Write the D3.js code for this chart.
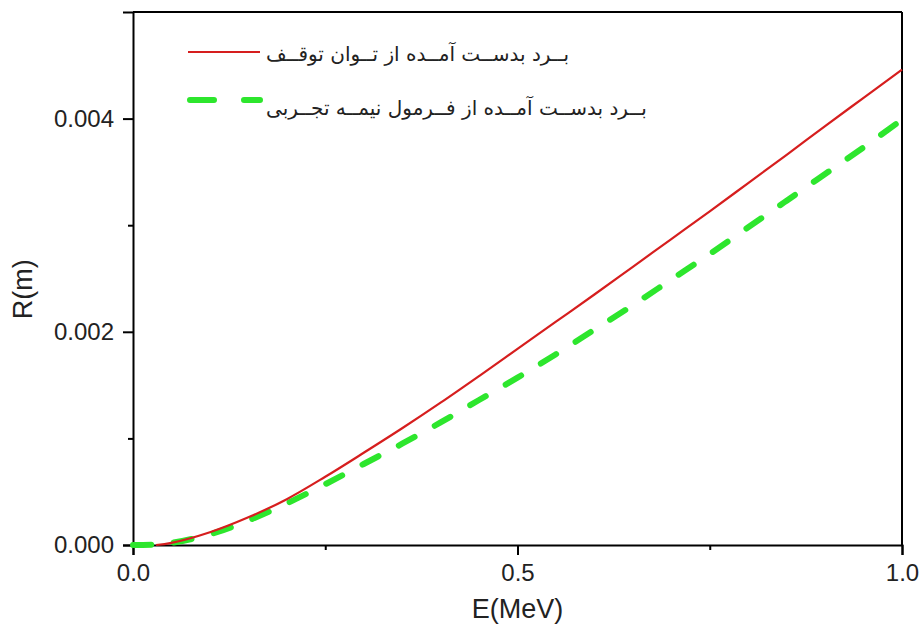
<!DOCTYPE html>
<html>
<head>
<meta charset="utf-8">
<script src="https://cdn.jsdelivr.net/npm/d3@7"></script>
<style>
  html, body { margin: 0; padding: 0; background: #fff; }
  svg { display: block; }
</style>
</head>
<body>
<svg id="chart" width="921" height="637"></svg>
<script>
// Energy (MeV) and range (m) from the stopping-power integration
const stoppingE = [0.03, 0.05, 0.1, 0.15, 0.2, 0.25, 0.3, 0.35, 0.4, 0.45, 0.5, 0.55, 0.6, 0.65, 0.7, 0.75, 0.8, 0.85, 0.9, 0.95, 1.0];
const stoppingR = [0, 0.00002, 0.00012, 0.00026, 0.00043, 0.00064, 0.000865, 0.001095, 0.001335, 0.001585, 0.00184, 0.002095, 0.00235, 0.00261, 0.00287, 0.00313, 0.003395, 0.00366, 0.00393, 0.004195, 0.00446];

// Energy (MeV) and range (m) from the semi-empirical formula
const empiricalE = [0, 0.03, 0.05, 0.1, 0.15, 0.2, 0.25, 0.3, 0.35, 0.4, 0.45, 0.5, 0.55, 0.6, 0.65, 0.7, 0.75, 0.8, 0.85, 0.9, 0.95, 1.0];
const empiricalR = [0, 0.000005, 0.00002, 0.0001, 0.00023, 0.00039, 0.00057, 0.00076, 0.00095, 0.00115, 0.00136, 0.00157, 0.00179, 0.00202, 0.00225, 0.00249, 0.00273, 0.00298, 0.00323, 0.00348, 0.00373, 0.00399];

const xTicks = [0, 0.5, 1.0];
const xMinorTicks = [0.25, 0.75];
const yTicks = [0, 0.002, 0.004];
const yMinorTicks = [0.001, 0.003];

const seriesNames = [
  "بــرد بدســت آمــده از تــوان توقــف",
  "بــرد بدســت آمــده از فــرمول نیمــه تجــربی"
];

const svg = d3.select("#chart");
const margin = { left: 133, right: 19, top: 12, bottom: 92 };
const W = 921, H = 637;

const x = d3.scaleLinear().domain([0, 1.0]).range([margin.left, W - margin.right]);
const y = d3.scaleLinear().domain([0, 0.005]).range([H - margin.bottom, margin.top]);

const tickFont = "'Liberation Sans', Arial, sans-serif";

// Frame: top and right edges
svg.append("line")
  .attr("x1", x(0)).attr("x2", x(1)).attr("y1", y(0.005)).attr("y2", y(0.005))
  .attr("stroke", "#000").attr("stroke-width", 2);
svg.append("line")
  .attr("x1", x(1)).attr("x2", x(1)).attr("y1", y(0)).attr("y2", y(0.005))
  .attr("stroke", "#000").attr("stroke-width", 2);

// Bottom axis
svg.append("g")
  .attr("transform", `translate(0,${y(0)})`)
  .call(d3.axisBottom(x).tickValues(xTicks).tickFormat(d3.format(".1f")).tickSize(10).tickPadding(9));
svg.append("g")
  .attr("transform", `translate(0,${y(0)})`)
  .call(d3.axisBottom(x).tickValues(xMinorTicks).tickFormat("").tickSize(5))
  .call(g => g.select(".domain").remove());

// Left axis
svg.append("g")
  .attr("transform", `translate(${x(0)},0)`)
  .call(d3.axisLeft(y).tickValues(yTicks).tickFormat(d3.format(".3f")).tickSize(10).tickPadding(9));
svg.append("g")
  .attr("transform", `translate(${x(0)},0)`)
  .call(d3.axisLeft(y).tickValues(yMinorTicks).tickFormat("").tickSize(5))
  .call(g => g.select(".domain").remove());

svg.selectAll(".tick line").attr("stroke", "#000").attr("stroke-width", 2);
svg.selectAll(".domain").attr("stroke", "#000").attr("stroke-width", 2);
svg.selectAll(".tick text")
  .attr("font-family", tickFont).attr("font-size", 24).attr("fill", "#222");

// Axis titles
svg.append("text")
  .attr("x", x(0.5)).attr("y", 618)
  .attr("text-anchor", "middle")
  .attr("font-family", tickFont).attr("font-size", 27).attr("fill", "#222")
  .text("E(MeV)");
svg.append("text")
  .attr("transform", `translate(32,${y(0.0024)}) rotate(-90)`)
  .attr("text-anchor", "middle")
  .attr("font-family", tickFont).attr("font-size", 27).attr("fill", "#222")
  .text("R(m)");

// Curves, clipped to the plot frame
svg.append("clipPath").attr("id", "plotArea")
  .append("rect")
  .attr("x", x(0) - 3).attr("y", y(0.005))
  .attr("width", x(1) - x(0) + 6).attr("height", y(0) - y(0.005) + 3);

const line = d3.line().x(d => x(d[0])).y(d => y(d[1])).curve(d3.curveCatmullRom.alpha(0.5));

svg.append("path")
  .datum(empiricalE.map((e, i) => [e, empiricalR[i]]))
  .attr("d", line)
  .attr("fill", "none")
  .attr("stroke", "#2de62d")
  .attr("stroke-width", 6)
  .attr("stroke-linecap", "round")
  .attr("stroke-dasharray", "18 23")
  .attr("clip-path", "url(#plotArea)");

svg.append("path")
  .datum(stoppingE.map((e, i) => [e, stoppingR[i]]))
  .attr("d", line)
  .attr("fill", "none")
  .attr("stroke", "#d61e1e")
  .attr("stroke-width", 2.2)
  .attr("clip-path", "url(#plotArea)");

// Legend
const legend = svg.append("g");
legend.append("line")
  .attr("x1", 188).attr("x2", 260).attr("y1", 52).attr("y2", 52)
  .attr("stroke", "#d61e1e").attr("stroke-width", 2.2);
legend.append("line")
  .attr("x1", 190).attr("x2", 260).attr("y1", 100).attr("y2", 100)
  .attr("stroke", "#2de62d").attr("stroke-width", 6)
  .attr("stroke-linecap", "round")
  .attr("stroke-dasharray", "24 30");

legend.selectAll("text.series")
  .data(seriesNames)
  .enter().append("text")
  .attr("class", "series")
  .attr("x", 266)
  .attr("y", (d, i) => i === 0 ? 61 : 115)
  .attr("font-family", "'DejaVu Sans', sans-serif")
  .attr("font-size", 20)
  .attr("fill", "#222")
  .text(d => d);
</script>
</body>
</html>
